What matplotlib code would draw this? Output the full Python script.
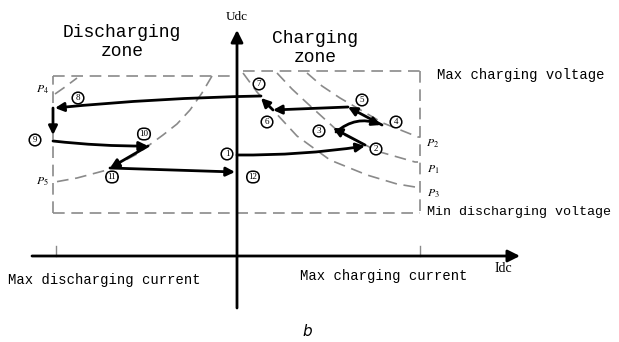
import matplotlib
matplotlib.use("Agg")
import matplotlib.pyplot as plt

# ---- diagram data (Idc, Udc) in arbitrary diagram units ----
axis_x = [-205, 283]          # Idc axis extent
axis_y = [-52, 226]           # Udc axis extent
rect_left, rect_right = -184, 183
rect_top_left, rect_top_right, rect_bottom = 180, 185, 43

# operating trajectory segments: (start, end, curvature)
seg_start = [(0, 101), (128, 111), (99, 124), (145, 131), (111, 149), (36, 146),
             (24, 160), (-184, 148), (-184, 115), (-89, 110), (-127, 88)]
seg_end = [(128, 110), (96, 128), (144, 131), (111, 149), (36, 146), (24, 158),
           (-182, 148), (-184, 121), (-89, 110), (-127, 88), (-2, 84)]
seg_rad = [0.04, 0.0, -0.3, 0.0, 0.0, 0.0, 0.02, 0.0, 0.03, 0.0, 0.0]

# circled state labels
state_labels = ["1", "2", "3", "4", "5", "6", "7", "8", "9", "10", "11", "12"]
state_pos = [(-10, 102), (139, 107), (82, 125), (159, 134), (125, 156), (30, 134),
             (22, 172), (-159, 158), (-202, 116), (-93, 122), (-125, 79), (16, 79)]

# constant power curves
curve_P3_I = [6, 20, 36, 60, 93, 130, 160, 178, 183]
curve_P3_U = [183, 164, 146, 120, 96, 81, 72, 69, 69]
curve_P1_I = [40, 55, 70, 103, 143, 178, 181]
curve_P1_U = [183, 167, 153, 123, 104, 94, 94]
curve_P2_I = [70, 85, 103, 146, 181, 183]
curve_P2_U = [183, 170, 158, 133, 119, 119]
curve_L_I = [-25, -35, -47, -60, -74, -100, -130, -160, -182]
curve_L_U = [180, 163, 146, 132, 121, 102, 86, 78, 74]
curve_P4_I = [-182, -172, -160]
curve_P4_U = [162, 169, 178]

p_labels = ["P", "P", "P", "P", "P"]
p_subs = ["4", "5", "2", "1", "3"]
p_pos = [(-194, 166), (-195, 74), (196, 113), (196, 87), (196, 63)]

fig = plt.figure(figsize=(6.19, 3.42), dpi=100)
ax = fig.add_axes([0, 0, 1, 1])
ax.set_xlim(-237, 382)
ax.set_ylim(-86, 256)
ax.axis("off")

mono = "Liberation Mono"
gray = "#8a8a8a"
dash = dict(color=gray, lw=1.2, dashes=(7, 4))

# dashed boundary rectangle
ax.plot([rect_left, rect_left], [rect_bottom, rect_top_left], **dash)
ax.plot([rect_left, 0], [rect_top_left, rect_top_left], **dash)
ax.plot([6, rect_right], [rect_top_right, rect_top_right], **dash)
ax.plot([rect_right, rect_right], [rect_top_right, rect_bottom], **dash)
ax.plot([rect_left, rect_right], [rect_bottom, rect_bottom], **dash)

# power curves
for xs, ys in [(curve_P3_I, curve_P3_U), (curve_P1_I, curve_P1_U),
               (curve_P2_I, curve_P2_U), (curve_L_I, curve_L_U),
               (curve_P4_I, curve_P4_U)]:
    ax.plot(xs, ys, **dash)

# small ticks on axis at max currents
ax.plot([-181, -181], [0, 10], color=gray, lw=1)
ax.plot([183, 183], [0, 10], color=gray, lw=1)

# axes
ax.annotate("", xy=(axis_x[1], 0), xytext=(axis_x[0], 0),
            arrowprops=dict(arrowstyle="-|>", lw=2, color="black",
                            mutation_scale=18, shrinkA=0, shrinkB=0))
ax.annotate("", xy=(0, axis_y[1]), xytext=(0, axis_y[0]),
            arrowprops=dict(arrowstyle="-|>", lw=2, color="black",
                            mutation_scale=18, shrinkA=0, shrinkB=0))

# trajectory
for s, e, r in zip(seg_start, seg_end, seg_rad):
    ax.annotate("", xy=e, xytext=s,
                arrowprops=dict(arrowstyle="-|>", lw=2, color="black",
                                mutation_scale=13, shrinkA=0, shrinkB=0,
                                connectionstyle=f"arc3,rad={r}"))

# circled labels
for lab, (x, y) in zip(state_labels, state_pos):
    style = "circle,pad=0.2" if len(lab) == 1 else "round,pad=0.2,rounding_size=0.65"
    ax.text(x, y, lab, fontsize=6.5, family="Liberation Serif", ha="center", va="center",
            bbox=dict(boxstyle=style, fc="white", ec="black", lw=1.1))

# P labels
for lab, sub, (x, y) in zip(p_labels, p_subs, p_pos):
    ax.text(x, y, f"${lab}_{{{sub}}}$", fontsize=8.5, ha="center", va="center",
            math_fontfamily="stix")

# texts
ax.text(0, 239, "Udc", fontsize=9.5, family="Liberation Serif", ha="center", va="center")
ax.text(266, -12, "Idc", fontsize=10, family="Liberation Serif", ha="center", va="center")
ax.text(-115, 214, "Discharging\nzone", fontsize=13, family=mono, ha="center",
        va="center", linespacing=1.1)
ax.text(78, 208, "Charging\nzone", fontsize=13, family=mono, ha="center",
        va="center", linespacing=1.1)
ax.text(200, 181, "Max charging voltage", fontsize=10, family=mono, ha="left", va="center")
ax.text(190, 44, "Min discharging voltage", fontsize=9.6, family=mono, ha="left", va="center")
ax.text(-229, -24, "Max discharging current", fontsize=10, family=mono, ha="left", va="center")
ax.text(63, -20, "Max charging current", fontsize=10, family=mono, ha="left", va="center")
ax.text(70, -76, "b", fontsize=11, family="DejaVu Sans", style="italic", ha="center", va="center")

fig.savefig("out.png", dpi=100)
